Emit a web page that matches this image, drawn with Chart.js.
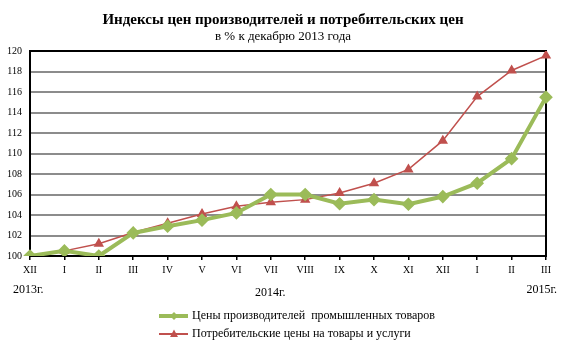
<!DOCTYPE html>
<html><head><meta charset="utf-8">
<script src="https://cdn.jsdelivr.net/npm/chart.js@4/dist/chart.umd.min.js"></script>
<style>html,body{margin:0;padding:0;background:#fff;}#wrap{position:relative;width:562px;height:358px;}</style>
</head><body><div id="wrap"><canvas id="c" width="562" height="358"></canvas></div>
<script>
const categories = ["XII","I","II","III","IV","V","VI","VII","VIII","IX","X","XI","XII","I","II","III"];
const producerPrices = [100,100.5,100.0,102.25,102.9,103.5,104.2,106.0,106.0,105.1,105.5,105.05,105.8,107.1,109.5,115.5];
const consumerPrices = [100,100.5,101.2,102.3,103.2,104.1,104.85,105.25,105.5,106.15,107.1,108.45,111.25,115.55,118.1,119.55];
const seriesNames = ["Цены производителей  промышленных товаров","Потребительские цены на товары и услуги"];
const yearLabels = ["2013г.","2014г.","2015г."];
const titleText = "Индексы цен производителей и потребительских цен";
const subtitleText = "в % к декабрю 2013 года";
const yMin = 100, yMax = 120, yStep = 2;

const GREEN = "#9BBB59", RED = "#C0504D";
const SERIF = "'Liberation Serif','DejaVu Serif',serif";

const extras = {
  id: "extras",
  beforeDatasetsDraw(chart) {
    const {ctx, chartArea: a} = chart;
    ctx.save();
    ctx.strokeStyle = "#000"; ctx.lineWidth = 2;
    ctx.strokeRect(a.left, a.top, a.right - a.left, a.bottom - a.top);
    ctx.restore();
  },
  afterDraw(chart) {
    const {ctx} = chart;
    ctx.save();
    ctx.fillStyle = "#000";
    ctx.textAlign = "center"; ctx.textBaseline = "middle";
    ctx.font = "bold 15px " + SERIF;
    ctx.fillText(titleText, 283, 20);
    ctx.font = "13px " + SERIF;
    ctx.fillText(subtitleText, 283, 37);
    ctx.font = "12px " + SERIF;
    ctx.textAlign = "left";
    ctx.fillText(yearLabels[0], 13, 290);
    ctx.fillText(yearLabels[1], 255, 293);
    ctx.textAlign = "right";
    ctx.fillText(yearLabels[2], 557, 290);
    // legend
    const rows = [{c: GREEN, w: 4, s: "diamond", y: 316, t: seriesNames[0]}, {c: RED, w: 2, s: "tri", y: 334, t: seriesNames[1]}];
    rows.forEach(r => {
      ctx.strokeStyle = r.c; ctx.fillStyle = r.c; ctx.lineWidth = r.w;
      ctx.beginPath(); ctx.moveTo(159, r.y); ctx.lineTo(188, r.y); ctx.stroke();
      const cx = 174;
      ctx.beginPath();
      if (r.s === "diamond") { ctx.moveTo(cx, r.y - 4); ctx.lineTo(cx + 4, r.y); ctx.lineTo(cx, r.y + 4); ctx.lineTo(cx - 4, r.y); }
      else { ctx.moveTo(cx, r.y - 4.5); ctx.lineTo(cx + 4, r.y + 3); ctx.lineTo(cx - 4, r.y + 3); }
      ctx.closePath(); ctx.fill();
      ctx.fillStyle = "#000"; ctx.textAlign = "left"; ctx.font = "12px " + SERIF;
      ctx.fillText(r.t, 192, r.y);
    });
    ctx.restore();
  }
};

new Chart(document.getElementById("c"), {
  type: "line",
  data: {
    labels: categories,
    datasets: [
      {label: seriesNames[1], data: consumerPrices, borderColor: RED, backgroundColor: RED, borderWidth: 1.5,
       pointStyle: "triangle", pointRadius: 4.5, pointHoverRadius: 4.5, tension: 0, order: 2},
      {label: seriesNames[0], data: producerPrices, borderColor: GREEN, backgroundColor: GREEN, borderWidth: 4,
       pointStyle: "rectRot", pointRadius: 4, pointHoverRadius: 4, tension: 0, order: 1}
    ]
  },
  plugins: [extras],
  options: {
    responsive: false, animation: false, devicePixelRatio: 1,
    layout: {padding: {left: 0, right: 16, top: 51, bottom: 0}},
    plugins: {legend: {display: false}, title: {display: false}, tooltip: {enabled: false}},
    scales: {
      x: {
        offset: false,
        grid: {display: true, drawOnChartArea: false, drawTicks: true, tickLength: 4, color: "#000", lineWidth: 1.5},
        border: {display: false},
        ticks: {color: "#000", font: {family: SERIF, size: 10}, padding: 4, maxRotation: 0, autoSkip: false},
        afterFit(s) { s.height = 102; }
      },
      y: {
        min: yMin, max: yMax,
        grid: {color: "#8c8c8c", lineWidth: 2, drawTicks: false},
        border: {display: false},
        ticks: {stepSize: yStep, color: "#000", font: {family: SERIF, size: 10}, padding: 8},
        afterFit(s) { s.width = 30; }
      }
    }
  }
});
</script></body></html>
